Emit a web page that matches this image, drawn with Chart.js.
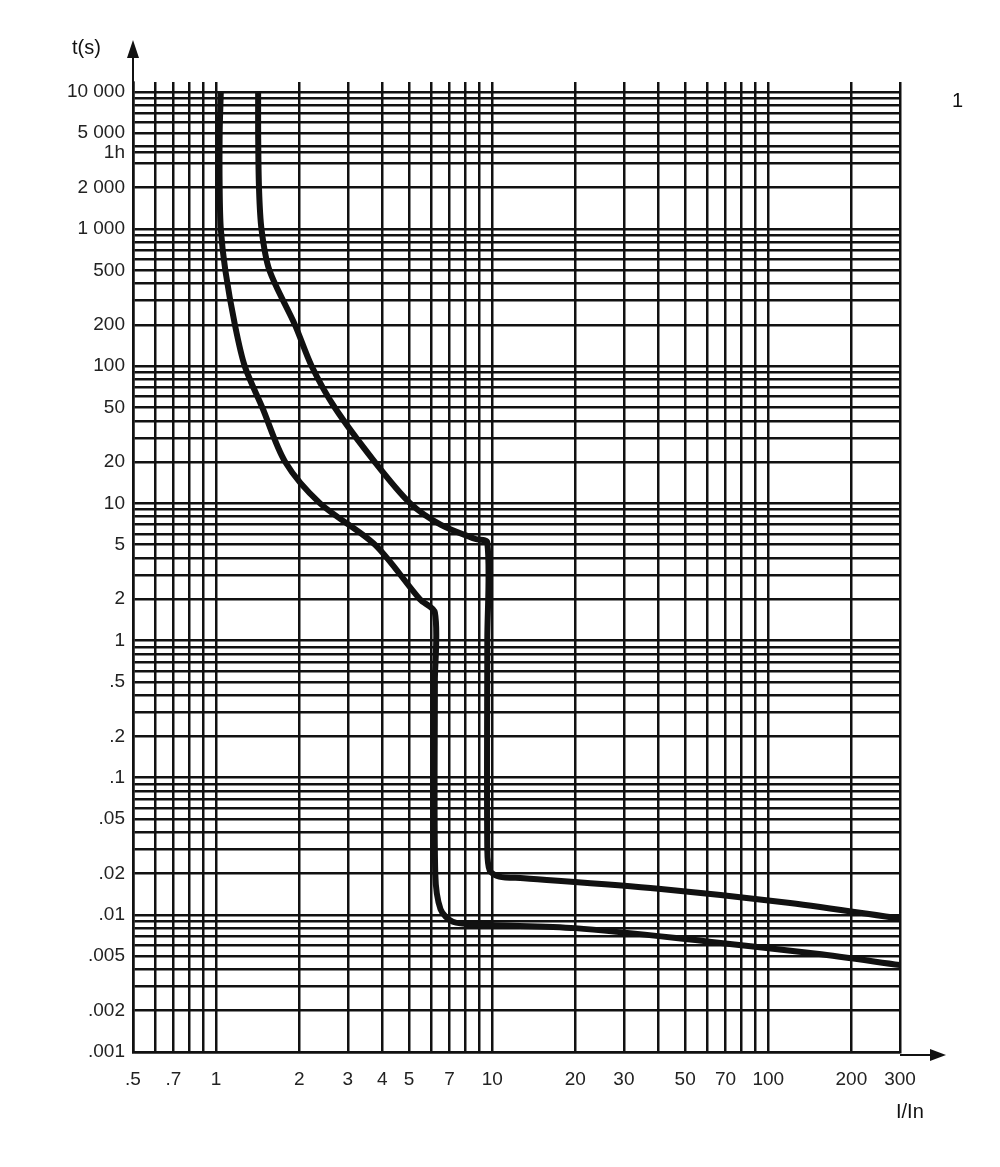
<!DOCTYPE html>
<html><head><meta charset="utf-8">
<script src="https://cdn.jsdelivr.net/npm/chart.js@4/dist/chart.umd.min.js"></script>
<style>html,body{margin:0;background:#fff}#w{width:1000px;height:1167px}</style>
</head><body><div id="w"><canvas id="c"></canvas></div>
<script>
const xGrid=[0.5,0.6,0.7,0.8,0.9,1,2,3,4,5,6,7,8,9,10,20,30,40,50,60,70,80,90,100,200,300];
const xLabels={0.5:'.5',0.7:'.7',1:'1',2:'2',3:'3',4:'4',5:'5',7:'7',10:'10',20:'20',30:'30',50:'50',70:'70',100:'100',200:'200',300:'300'};
const yGrid=[];
[0.001,0.01,0.1,1,10,100,1000].forEach(d=>{for(let k=1;k<10;k++)yGrid.push(+(d*k).toPrecision(3));});
yGrid.push(10000);yGrid.push(3600);
const yLabels={10000:'10 000',5000:'5 000',3600:'1h',2000:'2 000',1000:'1 000',500:'500',200:'200',100:'100',50:'50',20:'20',10:'10',5:'5',2:'2',1:'1',0.5:'.5',0.2:'.2',0.1:'.1',0.05:'.05',0.02:'.02',0.01:'.01',0.005:'.005',0.002:'.002',0.001:'.001'};
const curveAx=[1.04,1.03,1.03,1.04,1.08,1.17,1.27,1.47,1.78,2.38,3.76,5.47,6.2,6.2,6.22,6.5,7.2,9,20,60,150,300];
const curveAy=[10000,5000,2000,1000,500,200,100,50,20,10,5,2,1.6,0.5,0.02,0.011,0.0089,0.0085,0.008,0.0064,0.0052,0.0043];
const curveBx=[1.42,1.42,1.43,1.46,1.56,1.93,2.22,2.69,3.76,5.05,6.5,8.7,9.6,9.6,9.6,9.8,10.6,13,40,120,300];
const curveBy=[10000,5000,2000,1000,500,200,100,50,20,10,7,5.5,5.2,1,0.03,0.021,0.019,0.0185,0.0155,0.0122,0.0094];
const toPts=(xs,ys)=>xs.map((x,i)=>({x,y:ys[i]}));
const deco={id:'deco',afterDraw(ch){const c=ch.ctx;const a=ch.chartArea;c.save();c.strokeStyle='#111';c.fillStyle='#111';c.lineWidth=2;
c.beginPath();c.moveTo(a.left,a.top);c.lineTo(a.left,45);c.stroke();
c.beginPath();c.moveTo(a.left-6,58);c.lineTo(a.left,40);c.lineTo(a.left+6,58);c.fill();
c.beginPath();c.moveTo(a.right,a.bottom+3);c.lineTo(935,a.bottom+3);c.stroke();
c.beginPath();c.moveTo(930,a.bottom-3);c.lineTo(946,a.bottom+3);c.lineTo(930,a.bottom+9);c.fill();
c.font='20px "Liberation Sans", Arial';c.textAlign='left';c.textBaseline='middle';
c.fillText('t(s)',72,48);c.fillText('1',952,101);c.fillText('I/In',896,1112);c.restore();}};
new Chart(document.getElementById('c'),{type:'scatter',
data:{datasets:[
{data:toPts(curveAx,curveAy),showLine:true,borderColor:'#111',borderWidth:6,pointRadius:0,tension:0.3,borderJoinStyle:'round'},
{data:toPts(curveBx,curveBy),showLine:true,borderColor:'#111',borderWidth:6,pointRadius:0,tension:0.3,borderJoinStyle:'round'}]},
options:{responsive:true,maintainAspectRatio:false,animation:false,
layout:{padding:{left:0,top:82,right:100,bottom:55}},
plugins:{legend:{display:false},tooltip:{enabled:false}},
scales:{
x:{type:'logarithmic',min:0.5,max:300,afterFit:s=>{s.height=60;},
afterBuildTicks:s=>{s.ticks=xGrid.map(v=>({value:v}));},
grid:{color:'#111',lineWidth:2.5,drawTicks:false},border:{color:'#111',width:2.5},
ticks:{autoSkip:false,maxRotation:0,padding:16,color:'#222',font:{size:19,family:'"Liberation Sans", Arial'},callback:v=>xLabels[v]||''}},
y:{type:'logarithmic',min:0.001,max:11800,afterFit:s=>{s.width=133;},
afterBuildTicks:s=>{s.ticks=yGrid.map(v=>({value:v}));},
grid:{color:'#111',lineWidth:2.5,drawTicks:false},border:{color:'#111',width:2.5},
ticks:{autoSkip:false,padding:8,color:'#222',font:{size:19,family:'"Liberation Sans", Arial'},callback:v=>yLabels[v]||''}}}},
plugins:[deco]});
</script></body></html>
